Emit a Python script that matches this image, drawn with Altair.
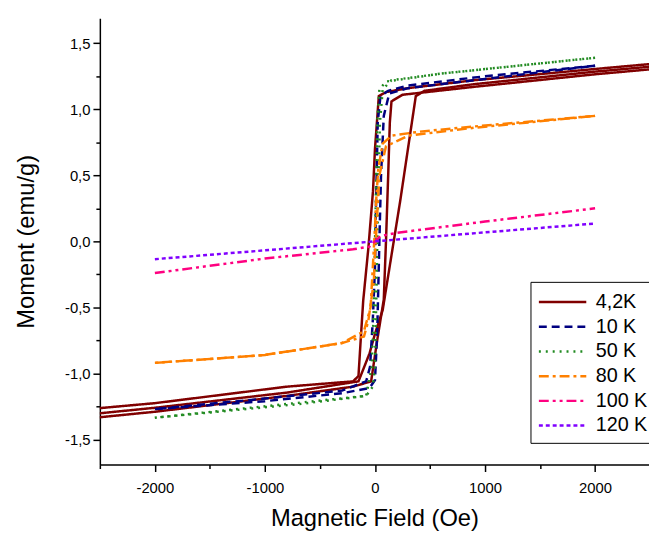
import altair as alt
import pandas as pd

# ---------------- data ----------------
series_names = ["4,2K", "10 K", "50 K", "80 K", "100 K", "120 K"]
series_colors = ["#800000", "#000080", "#228B22", "#FF8000", "#FF0080", "#8000FF"]
series_dashes = [[1, 0], [8, 5], [2, 5], [10, 4, 3, 4], [10, 4, 3, 4, 3, 4], [4, 3]]

# 4,2K : three branches
k4_desc_x = [2600, 2000, 900, 300, 100, 35, 0, -18, -60, -107, -130, -150, -200, -800, -2000, -2600]
k4_desc_y = [1.35, 1.305, 1.22, 1.16, 1.13, 1.10, 0.70, 0.38, -0.05, -0.45, -0.75, -1.02, -1.06, -1.10, -1.225, -1.27]
k4_asc_x = [-2600, -2000, -800, -200, -35, 20, 80, 100, 120, 135, 150, 250, 900, 2000, 2600]
k4_asc_y = [-1.34, -1.29, -1.17, -1.10, -1.06, -0.75, -0.44, 0.00, 0.50, 0.90, 1.06, 1.11, 1.17, 1.265, 1.31]
k4_third_x = [-2600, -2000, -800, -150, -50, 0, 70, 230, 371, 450, 900, 2000, 2600]
k4_third_y = [-1.31, -1.26, -1.145, -1.06, -0.85, -0.70, -0.52, 0.31, 1.10, 1.14, 1.19, 1.285, 1.33]

# 10 K
k10_desc_x = [2000, 1000, 300, 120, 50, 25, 10, 0, -20, -45, -80, -300, -1000, -2000]
k10_desc_y = [1.33, 1.25, 1.18, 1.14, 1.10, 0.90, 0.30, -0.20, -0.60, -0.95, -1.06, -1.13, -1.19, -1.27]
k10_asc_x = [-2000, -1000, -300, -50, 0, 20, 40, 55, 80, 130, 300, 1000, 2000]
k10_asc_y = [-1.27, -1.21, -1.15, -1.11, -1.05, -0.70, 0.00, 0.50, 0.95, 1.12, 1.16, 1.23, 1.33]

# 50 K
k50_desc_x = [2000, 600, 100, 40, 20, 5, -10, -30, -80, -670, -2000]
k50_desc_y = [1.39, 1.27, 1.21, 1.15, 0.90, 0.20, -0.50, -0.95, -1.17, -1.22, -1.335]
k50_asc_x = [-2000, -670, -80, -20, 0, 15, 30, 45, 70, 150, 600, 2000]
k50_asc_y = [-1.335, -1.23, -1.17, -1.10, -0.95, -0.30, 0.40, 0.90, 1.15, 1.22, 1.27, 1.39]

# 80 K
k80_desc_x = [2000, 900, 400, 150, 70, 30, 10, 0, -40, -100, -300, -1000, -2000]
k80_desc_y = [0.95, 0.87, 0.83, 0.80, 0.74, 0.55, 0.30, 0.10, -0.50, -0.68, -0.77, -0.86, -0.92]
k80_asc_x = [-2000, -1000, -300, -100, -60, -10, 0, 40, 100, 300, 900, 2000]
k80_asc_y = [-0.92, -0.86, -0.77, -0.72, -0.60, -0.30, -0.10, 0.50, 0.72, 0.80, 0.86, 0.95]

# 100 K
k100_x = [-2000, -1000, -200, -50, 0, 50, 200, 1000, 2000]
k100_y = [-0.24, -0.13, -0.06, -0.04, 0.00, 0.04, 0.065, 0.15, 0.25]

# 120 K
k120_x = [-2000, -1000, 0, 1000, 2000]
k120_y = [-0.135, -0.068, 0.0, 0.068, 0.135]

x_ticks = [-2500, -2000, -1500, -1000, -500, 0, 500, 1000, 1500, 2000]
y_ticks = [-1.5, -1.25, -1.0, -0.75, -0.5, -0.25, 0.0, 0.25, 0.5, 0.75, 1.0, 1.25, 1.5]

branches = [
    ("4,2K", "a", k4_desc_x, k4_desc_y),
    ("4,2K", "b", k4_asc_x, k4_asc_y),
    ("4,2K", "c", k4_third_x, k4_third_y),
    ("10 K", "a", k10_desc_x, k10_desc_y),
    ("10 K", "b", k10_asc_x, k10_asc_y),
    ("50 K", "a", k50_desc_x, k50_desc_y),
    ("50 K", "b", k50_asc_x, k50_asc_y),
    ("80 K", "a", k80_desc_x, k80_desc_y),
    ("80 K", "b", k80_asc_x, k80_asc_y),
    ("100 K", "a", k100_x, k100_y),
    ("120 K", "a", k120_x, k120_y),
]

rows = []
for s, b, xs, ys in branches:
    for i, (xv, yv) in enumerate(zip(xs, ys)):
        rows.append({"series": s, "branch": s + b, "i": i, "H": xv, "M": yv})
df = pd.DataFrame(rows)

FONT = "Liberation Sans"

legend = alt.Legend(
    title=None,
    orient="none",
    legendX=436,
    legendY=267,
    strokeColor="black",
    padding=7,
    labelFont=FONT,
    labelFontSize=20,
    labelColor="black",
    symbolType="M-1,0H3",
    symbolSize=576,
    symbolStrokeWidth=2.5,
    labelOffset=32,
    rowPadding=1,
    fillColor="white",
)

chart = (
    alt.Chart(df)
    .mark_line(clip=True, strokeWidth=2.5)
    .encode(
        x=alt.X(
            "H:Q",
            scale=alt.Scale(domain=[-2500, 2490], nice=False, zero=False),
            axis=alt.Axis(
                title="Magnetic Field (Oe)",
                values=x_ticks,
                labelExpr="datum.value % 1000 != 0 ? '' : (datum.value < 0 ? '-' : '') + abs(datum.value)",
                tickSize={"condition": {"test": "datum.value % 1000 != 0", "value": 4}, "value": 7},
                grid=False,
                labelPadding=9,
                titlePadding=12,
            ),
        ),
        y=alt.Y(
            "M:Q",
            scale=alt.Scale(domain=[-1.69, 1.69], nice=False, zero=False),
            axis=alt.Axis(
                title="Moment (emu/g)",
                values=y_ticks,
                labelExpr="round(datum.value*4) % 2 != 0 ? '' : (datum.value < 0 ? '-' : '') + replace(format(abs(datum.value), '.1f'), '.', ',')",
                tickSize={"condition": {"test": "round(datum.value*4) % 2 != 0", "value": 4}, "value": 7},
                grid=False,
                labelPadding=3,
                titlePadding=26,
            ),
        ),
        color=alt.Color(
            "series:N",
            sort=series_names,
            scale=alt.Scale(domain=series_names, range=series_colors),
            legend=legend,
        ),
        strokeDash=alt.StrokeDash(
            "series:N",
            sort=series_names,
            scale=alt.Scale(domain=series_names, range=series_dashes),
            legend=legend,
        ),
        detail="branch:N",
        order="i:Q",
    )
    .properties(
        width=556,
        height=452,
        padding={"left": 93, "top": 7, "right": 0, "bottom": 66},
        autosize=alt.AutoSizeParams(type="none"),
    )
    .configure_view(stroke=None)
    .configure_axis(
        domainColor="black",
        domainWidth=1.5,
        tickColor="black",
        tickWidth=1.5,
        labelFont=FONT,
        labelFontSize=15,
        labelColor="black",
        titleFont=FONT,
        titleFontSize=24,
        titleFontWeight="normal",
        titleColor="black",
    )
)

chart.save("out.html", embed_options={"renderer": "svg", "actions": False})
